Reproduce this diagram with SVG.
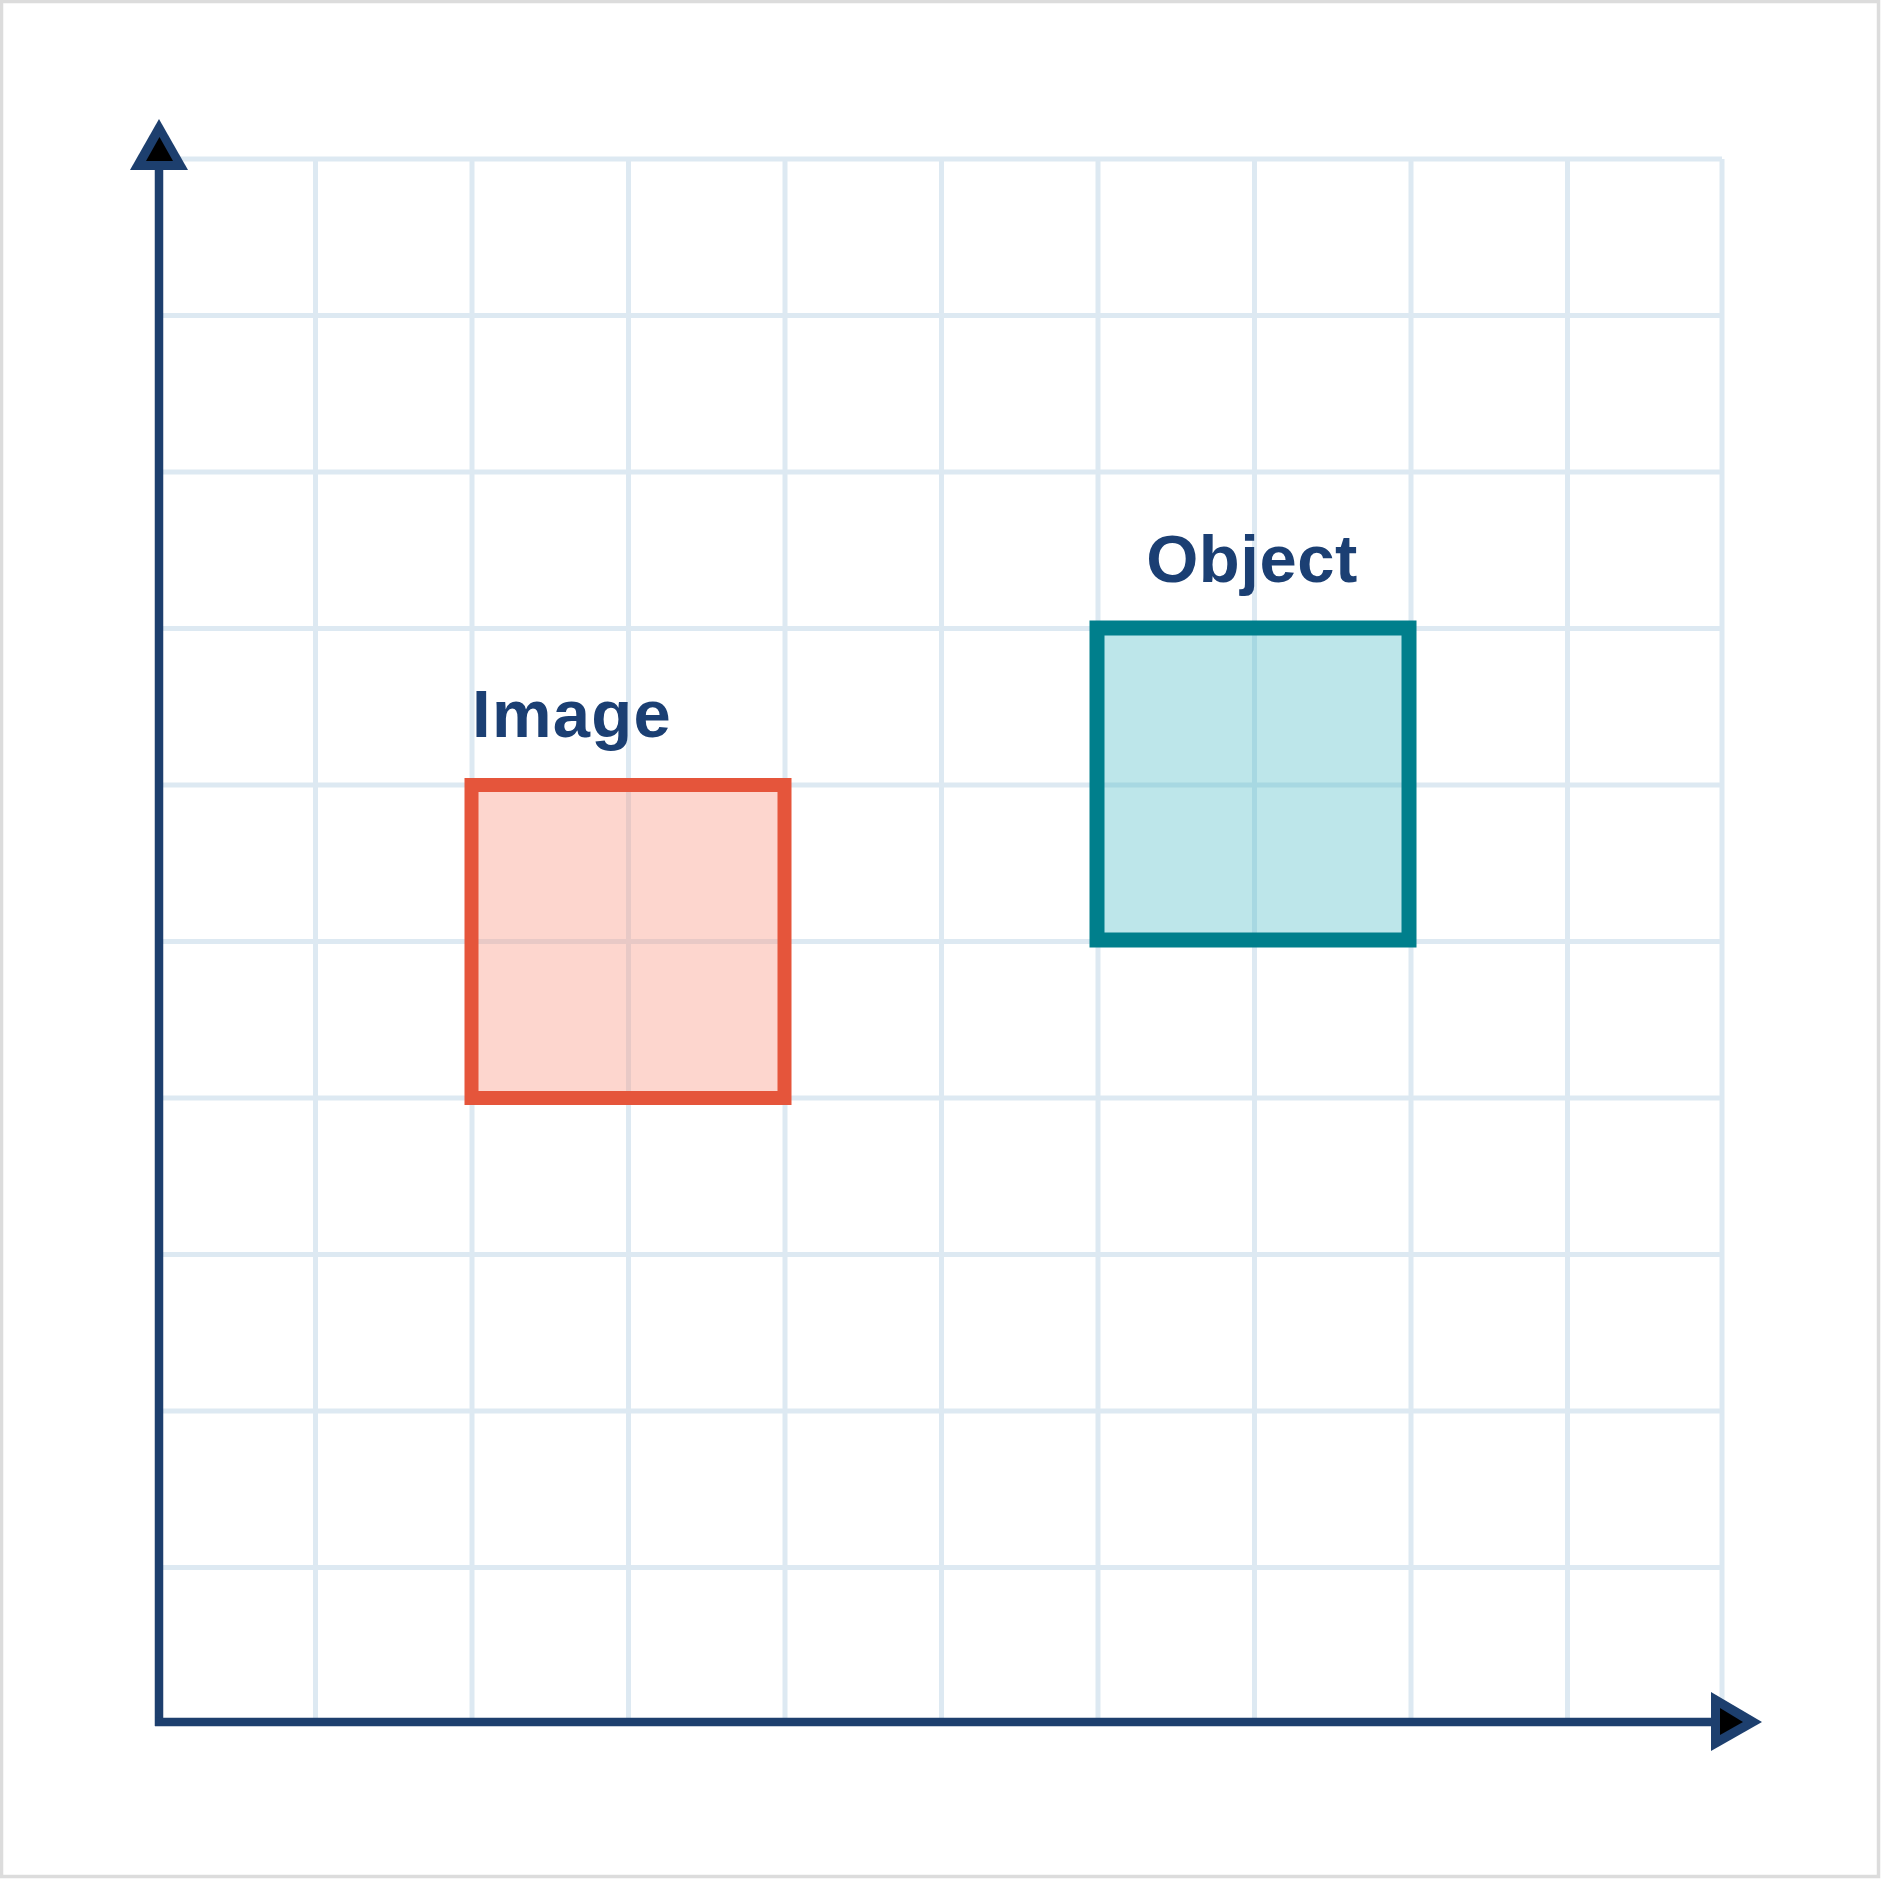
<svg xmlns="http://www.w3.org/2000/svg" width="1881" height="1881" viewBox="0 0 1881 1881">
<style>
.grid line{stroke:#dde9f2;stroke-width:5}
.axis{stroke:#1d3f6e;stroke-width:8.5;fill:none}
.head{fill:#1d3f6e}
.headin{fill:#000}
.lbl{font-family:"Liberation Sans",Arial,sans-serif;font-weight:bold;font-size:67px;fill:#1b3f73}
</style>
<rect x="0" y="0" width="1881" height="1881" fill="#ffffff"/>
<rect x="1.5" y="1.5" width="1877" height="1875" fill="none" stroke="#dcdcdc" stroke-width="3.5"/>
<g class="grid" id="grid">
<line x1="163" y1="159" x2="1722" y2="159"/>
<line x1="163" y1="315.5" x2="1722" y2="315.5"/>
<line x1="163" y1="472" x2="1722" y2="472"/>
<line x1="163" y1="628.5" x2="1722" y2="628.5"/>
<line x1="163" y1="785" x2="1722" y2="785"/>
<line x1="163" y1="941.5" x2="1722" y2="941.5"/>
<line x1="163" y1="1098" x2="1722" y2="1098"/>
<line x1="163" y1="1254.5" x2="1722" y2="1254.5"/>
<line x1="163" y1="1411" x2="1722" y2="1411"/>
<line x1="163" y1="1567.5" x2="1722" y2="1567.5"/>
<line x1="315.5" y1="159" x2="315.5" y2="1718"/>
<line x1="472" y1="159" x2="472" y2="1718"/>
<line x1="628.5" y1="159" x2="628.5" y2="1718"/>
<line x1="785" y1="159" x2="785" y2="1718"/>
<line x1="941.5" y1="159" x2="941.5" y2="1718"/>
<line x1="1098" y1="159" x2="1098" y2="1718"/>
<line x1="1254.5" y1="159" x2="1254.5" y2="1718"/>
<line x1="1411" y1="159" x2="1411" y2="1718"/>
<line x1="1567.5" y1="159" x2="1567.5" y2="1718"/>
<line x1="1722" y1="159" x2="1722" y2="1718"/>
</g>
<g id="connectors">
<line class="axis" x1="159" y1="168" x2="159" y2="1726"/>
<line class="axis" x1="155" y1="1722" x2="1713" y2="1722"/>
<polygon class="head" points="159,119 130,170 188,170"/>
<polygon class="headin" points="159.5,137 146,161 173,161"/>
<polygon class="head" points="1711,1692 1762,1722 1711,1751"/>
<polygon class="headin" points="1720,1708 1743,1722 1720,1735"/>
</g>
<g id="image">
<rect x="471.5" y="785" width="313" height="313" fill="#fa9884" fill-opacity="0.4" stroke="#e5553b" stroke-width="14"/>
<text class="lbl" x="472" y="737" letter-spacing="1.3">Image</text>
</g>
<g id="object">
<rect x="1097" y="628" width="312" height="312" fill="#4dbbc6" fill-opacity="0.37" stroke="#007f8c" stroke-width="15"/>
<text class="lbl" x="1252" y="582" text-anchor="middle" letter-spacing="0.5">Object</text>
</g>
</svg>
